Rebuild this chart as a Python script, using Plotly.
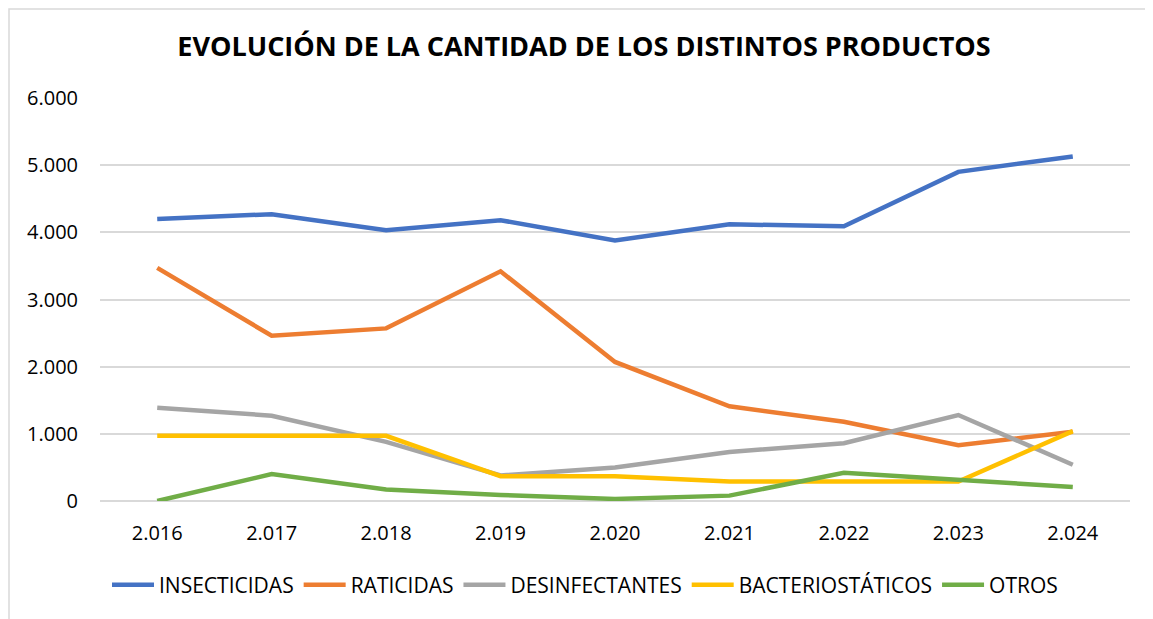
import plotly.graph_objects as go

years = ["2.016", "2.017", "2.018", "2.019", "2.020", "2.021", "2.022", "2.023", "2.024"]
insecticidas = [4200, 4270, 4030, 4180, 3880, 4120, 4090, 4900, 5130]
raticidas = [3470, 2460, 2570, 3420, 2070, 1410, 1180, 830, 1030]
desinfectantes = [1390, 1270, 880, 380, 500, 730, 860, 1280, 540]
bacteriostaticos = [970, 970, 970, 370, 370, 290, 290, 290, 1040]
otros = [0, 400, 170, 90, 30, 80, 420, 310, 210]

series = [
    ("INSECTICIDAS", insecticidas, "#4472C4"),
    ("RATICIDAS", raticidas, "#ED7D31"),
    ("DESINFECTANTES", desinfectantes, "#A5A5A5"),
    ("BACTERIOSTÁTICOS", bacteriostaticos, "#FFC000"),
    ("OTROS", otros, "#70AD47"),
]

OFF = 8  # page body margin
W, H = 1153 - OFF, 619 - OFF
L, T = 100 - OFF, 98 - OFF
R = W - (1130 - OFF)
B = H - (501 - OFF)
pw, ph = W - L - R, H - T - B

fig = go.Figure()
for name, vals, color in series:
    fig.add_trace(go.Scatter(x=years, y=vals, name=name, mode="lines",
                             line=dict(color=color, width=4.5)))

def px_x(p):
    return (p - OFF - L) / pw

def px_y(p):
    return (H - B - (p - OFF)) / ph

fig.update_layout(
    width=W, height=H,
    margin=dict(l=L, r=R, t=T, b=B, autoexpand=False),
    paper_bgcolor="white", plot_bgcolor="white",
    separators=",.",
    font=dict(family="Open Sans", color="#000000"),
    title=dict(text="<b>EVOLUCIÓN DE LA CANTIDAD DE LOS DISTINTOS PRODUCTOS</b>",
               x=px_x(584), xanchor="center", xref="paper",
               y=1 - (47 - OFF) / H, yanchor="middle",
               font=dict(size=27, family="Open Sans", color="#000000")),
    xaxis=dict(type="category", range=[-0.5, 8.5], showgrid=False, showline=False,
               ticks="", tickfont=dict(size=20), ticklabelstandoff=18),
    yaxis=dict(range=[0, 6000], dtick=1000, tickformat=",d", showgrid=True,
               gridcolor="#D9D9D9", gridwidth=1.5, zeroline=True, zerolinecolor="#D9D9D9",
               zerolinewidth=1.5, showline=False, ticks="", tickfont=dict(size=20),
               ticklabelstandoff=21),
    legend=dict(orientation="h", x=px_x(585), xanchor="center", y=px_y(585), yanchor="middle",
                font=dict(size=21), itemwidth=42, tracegroupgap=0),
    showlegend=True,
)

fig.add_shape(type="rect", xref="paper", yref="paper",
              x0=px_x(OFF + 1), x1=px_x(1200), y0=px_y(700), y1=px_y(OFF + 1),
              line=dict(color="#D9D9D9", width=1.5), fillcolor="rgba(0,0,0,0)", layer="below")

fig.write_html("out.html")
